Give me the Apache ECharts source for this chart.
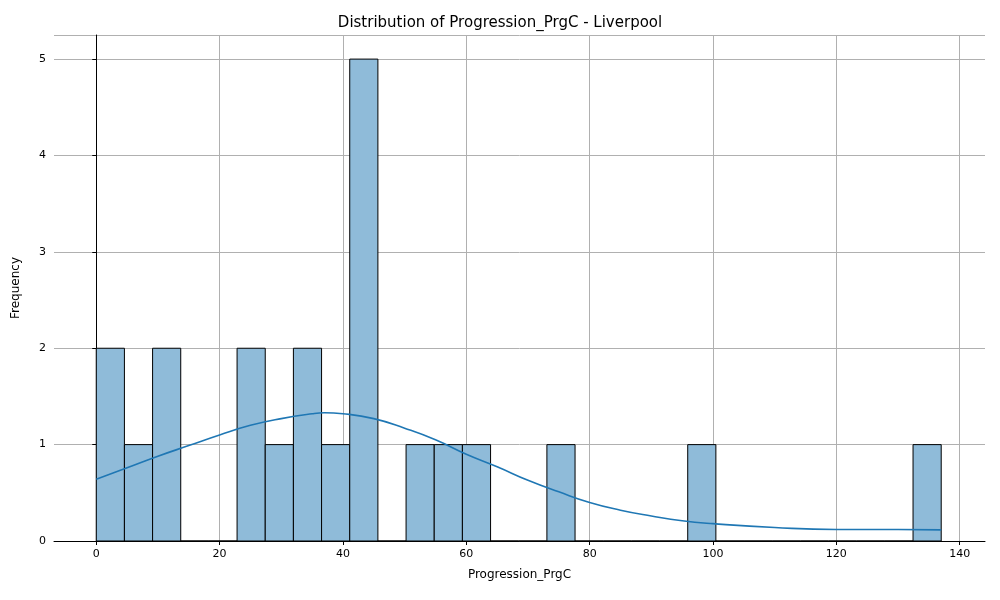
<!DOCTYPE html>
<html>
<head>
<meta charset="utf-8" />
<script src="https://cdn.jsdelivr.net/npm/echarts@6/dist/echarts.min.js"></script>
<style>html,body{margin:0;padding:0;background:#fff}#main{width:1000px;height:600px}</style>
</head>
<body>
<div id="main"></div>
<script>
// histogram: 30 bins from 0 to 137
var binStart = 0;
var binWidth = 137 / 30;
var counts = [2,1,2,0,0,2,1,2,1,5,0,1,1,1,0,0,1,0,0,0,0,1,0,0,0,0,0,0,0,1];
// KDE curve
var kdeX = [0,5,10,15,20,25,30,35,37,40,45,50,55,60,65,70,75,80,85,90,95,100,110,120,130,137];
var kdeY = [0.64,0.76,0.88,0.99,1.1,1.2,1.27,1.32,1.33,1.32,1.27,1.17,1.05,0.9,0.77,0.63,0.51,0.40,0.32,0.26,0.21,0.18,0.14,0.12,0.12,0.115];
var xTicks = [0,20,40,60,80,100,120,140];

var barData = counts.map(function (c, i) {
  return [binStart + i * binWidth, binStart + (i + 1) * binWidth, c];
});

var myChart = echarts.init(document.getElementById('main'));
var font = 'DejaVu Sans';
var option = {
  animation: false,
  textStyle: {fontFamily: font},
  title: {
    text: 'Distribution of Progression_PrgC - Liverpool',
    left: 'center', top: 11,
    textStyle: {fontSize: 15, fontWeight: 'normal', color: '#000', fontFamily: font}
  },
  grid: {left: 54, right: 15, top: 35, bottom: 59},
  xAxis: {
    type: 'value', min: -6.85, max: 144.1,
    name: 'Progression_PrgC', nameLocation: 'middle', nameGap: 28,
    nameTextStyle: {fontSize: 12, color: '#000'},
    axisLine: {onZero: false, lineStyle: {color: '#000'}},
    axisTick: {customValues: xTicks, length: 4, lineStyle: {color: '#000'}},
    axisLabel: {customValues: xTicks, color: '#000', fontSize: 11},
    splitLine: {show: true, lineStyle: {color: '#b0b0b0'}}
  },
  yAxis: {
    type: 'value', min: 0, max: 5.25, interval: 1,
    name: 'Frequency', nameLocation: 'middle', nameGap: 32,
    nameTextStyle: {fontSize: 12, color: '#000'},
    axisLine: {show: true, lineStyle: {color: '#000'}},
    axisTick: {show: true, length: 4, lineStyle: {color: '#000'}},
    axisLabel: {color: '#000', fontSize: 11, showMaxLabel: false},
    splitLine: {show: true, lineStyle: {color: '#b0b0b0'}}
  },
  series: [
    {
      type: 'custom',
      data: barData,
      renderItem: function (params, api) {
        var p0 = api.coord([api.value(0), api.value(2)]);
        var p1 = api.coord([api.value(1), 0]);
        return {
          type: 'rect',
          shape: {x: p0[0], y: p0[1], width: p1[0] - p0[0], height: p1[1] - p0[1]},
          style: {fill: '#8fbbd9', stroke: '#000', lineWidth: 1}
        };
      },
      z: 2
    },
    {
      type: 'line',
      data: kdeX.map(function (x, i) { return [x, kdeY[i]]; }),
      smooth: true, symbol: 'none',
      lineStyle: {color: '#1f77b4', width: 1.6},
      z: 3
    }
  ]
};
myChart.setOption(option);
</script>
</body>
</html>
